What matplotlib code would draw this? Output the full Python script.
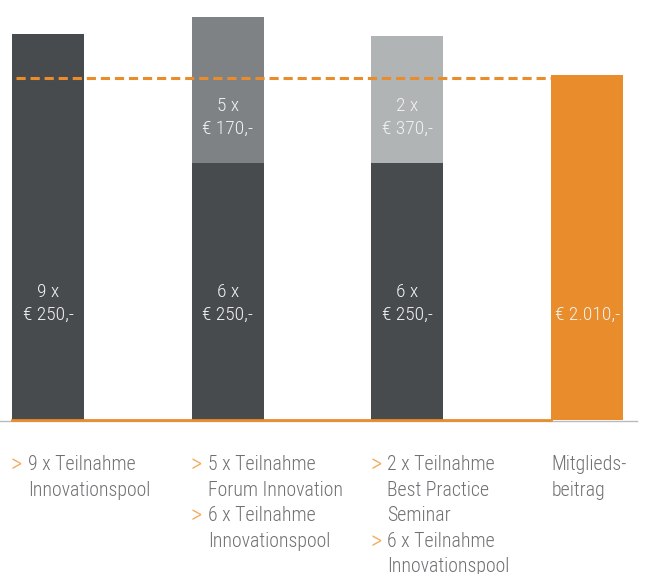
import matplotlib
matplotlib.use("Agg")
import matplotlib.pyplot as plt

# data
positions = [0, 1, 2, 3]
base_vals = [2250, 1500, 1500, 2010]          # bottom segment
top_vals = [0, 850, 740, 0]                    # top segment (5x170, 2x370)
base_labels = ["9 x\n€ 250,-", "6 x\n€ 250,-", "6 x\n€ 250,-", "€ 2.010,-"]
top_labels = ["", "5 x\n€ 170,-", "2 x\n€ 370,-", ""]
member_fee = 2010

# bottom captions: (bullet?, line)
captions = [
    [(True, "9 x Teilnahme"), (False, "Innovationspool")],
    [(True, "5 x Teilnahme"), (False, "Forum Innovation"),
     (True, "6 x Teilnahme"), (False, "Innovationspool")],
    [(True, "2 x Teilnahme"), (False, "Best Practice"), (False, "Seminar"),
     (True, "6 x Teilnahme"), (False, "Innovationspool")],
    [(False, "Mitglieds-"), (False, "beitrag")],
]

dark = "#484b4e"
orange = "#e98d2c"
top_colors = ["#484b4e", "#7f8284", "#b1b4b5", orange]
base_colors = [dark, dark, dark, orange]
txt_gray = "#6f7072"
bullet_col = "#f3a95c"

plt.rcParams['font.family'] = ['Roboto Condensed', 'Roboto', 'DejaVu Sans']

fig = plt.figure(figsize=(6.47, 5.74), dpi=100)
ax = fig.add_axes([0, 1 - 420 / 574, 1, 411.6 / 574])
w = 0.4

ax.bar(positions, base_vals, width=w, color=base_colors, zorder=2)
ax.bar(positions, top_vals, width=w, bottom=base_vals, color=top_colors, zorder=2)

ax.set_xlim(-48 / 179.7, (647 - 48) / 179.7)
ax.set_ylim(0, 2400)
ax.axis("off")

# baseline
ax.axhline(-6, xmin=0, xmax=637 / 647, color="#b8babb", lw=1, zorder=1, clip_on=False)
ax.plot([positions[0] - w / 2, positions[3] - w / 2], [0, 0], color=orange, lw=2,
        zorder=3, clip_on=False)

# dashed reference line for member fee
ax.plot([-0.178, positions[3] - w / 2], [member_fee - 18, member_fee - 18], color=orange,
        lw=2.2, dashes=(3, 1.6), zorder=3)

fs = 14
tc = "#f2f2f2"
for i in range(4):
    if i < 3:
        ax.text(positions[i], 680, base_labels[i], ha="center", va="center",
                color=tc, fontsize=fs, linespacing=1.3, fontweight="light", zorder=4)
    else:
        ax.text(positions[i], 612, base_labels[i], ha="center", va="center",
                color=tc, fontsize=fs, fontweight="light", zorder=4)
    if top_labels[i]:
        ax.text(positions[i], 1765, top_labels[i], ha="center", va="center",
                color=tc, fontsize=fs, linespacing=1.4, fontweight="light", zorder=4)

fs2 = 14.3
for i, lines in enumerate(captions):
    for k, (bullet, line) in enumerate(lines):
        dy = -(50 + k * 25.6) * 0.72
        if bullet:
            ax.annotate(">", xy=(positions[i] - w / 2, 0), xycoords="data",
                        xytext=(-1, dy - 1.2), textcoords="offset points",
                        ha="left", va="baseline", fontsize=18, color=bullet_col,
                        fontweight="light", annotation_clip=False)
        xoff = 0 if i == 3 else 16 * 0.72
        ax.annotate(line, xy=(positions[i] - w / 2, 0), xycoords="data",
                    xytext=(xoff, dy), textcoords="offset points",
                    ha="left", va="baseline", fontsize=fs2, color=txt_gray,
                    fontweight="light", annotation_clip=False)

fig.savefig("out.png", dpi=100)
